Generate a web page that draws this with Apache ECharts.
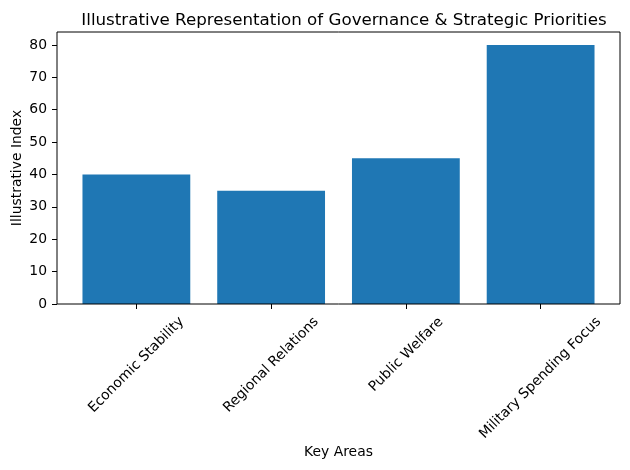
<!DOCTYPE html>
<html>
<head>
<meta charset="utf-8">
<script src="https://cdn.jsdelivr.net/npm/echarts@6/dist/echarts.min.js"></script>
<style>html,body{margin:0;padding:0;background:#fff;}#c{width:630px;height:470px;}</style>
</head>
<body>
<div id="c"></div>
<script>
var categories = ['Economic Stability', 'Regional Relations', 'Public Welfare', 'Military Spending Focus'];
var values = [40, 35, 45, 80];
var yTicks = [0, 10, 20, 30, 40, 50, 60, 70, 80];

var FONT = 'DejaVu Sans';
var FS = 13.9;

var measureCtx = document.createElement('canvas').getContext('2d');
measureCtx.font = FS + 'px "' + FONT + '", sans-serif';
// matplotlib-style rotated label: box top fixed under the axis, box centred on the tick
function labelPad(t) {
  var L = measureCtx.measureText(t).width;
  var s = L + 16;
  var padTop = Math.max(0, Math.round(s / 4 - 7));
  var padRight = Math.round(s / 2);
  return [padTop, padRight, 0, 0];
}
var xData = categories.map(function (c) {
  return {
    value: c,
    textStyle: {
      align: 'center', verticalAlign: 'top',
      fontFamily: FONT, fontSize: FS, color: '#000',
      padding: labelPad(c)
    }
  };
});

var frameLeft = 57, frameRight = 10, plotTop = 32, plotBottom = 166;
var inset = 12;

var chart = echarts.init(document.getElementById('c'));
chart.setOption({
  animation: false,
  backgroundColor: '#fff',
  textStyle: { fontFamily: FONT, color: '#000' },
  title: {
    text: 'Illustrative Representation of Governance & Strategic Priorities',
    left: 339, textAlign: 'center', top: 7,
    textStyle: { fontFamily: FONT, fontSize: 16.7, fontWeight: 'normal', color: '#000' }
  },
  grid: [
    { left: frameLeft + inset, right: frameRight + inset, top: plotTop, bottom: plotBottom, containLabel: false, outerBoundsMode: 'none' },
    { left: frameLeft, right: frameRight, top: plotTop, bottom: plotBottom, show: true, borderColor: '#000', borderWidth: 1, backgroundColor: 'transparent', z: 10, containLabel: false, outerBoundsMode: 'none' }
  ],
  xAxis: [
    {
      gridIndex: 0, type: 'category', data: xData,
      name: 'Key Areas', nameLocation: 'middle', nameGap: 141, nameMoveOverlap: false,
      nameTextStyle: { fontFamily: FONT, fontSize: FS, color: '#000' },
      axisLine: { show: false },
      axisTick: { show: true, alignWithLabel: true, length: 5, lineStyle: { color: '#000', width: 1 } },
      axisLabel: {
        interval: 0, rotate: 45, margin: 10,
        fontFamily: FONT, fontSize: FS, color: '#000', hideOverlap: false
      },
      splitLine: { show: false }
    },
    { gridIndex: 1, type: 'value', show: false, min: 0, max: 1 }
  ],
  yAxis: [
    {
      gridIndex: 0, type: 'value', min: 0, max: 84, offset: inset,
      name: 'Illustrative Index', nameLocation: 'middle', nameGap: 33, nameMoveOverlap: false,
      nameTextStyle: { fontFamily: FONT, fontSize: FS, color: '#000' },
      axisLine: { show: false },
      axisTick: { show: true, length: 5, customValues: yTicks, lineStyle: { color: '#000', width: 1 } },
      axisLabel: { customValues: yTicks, margin: 10, fontFamily: FONT, fontSize: FS, color: '#000' },
      splitLine: { show: false }
    },
    { gridIndex: 1, type: 'value', show: false, min: 0, max: 1 }
  ],
  series: [{
    type: 'bar', xAxisIndex: 0, yAxisIndex: 0,
    data: values, barCategoryGap: '20%',
    itemStyle: { color: '#1f77b4' }
  }]
});
</script>
</body>
</html>
